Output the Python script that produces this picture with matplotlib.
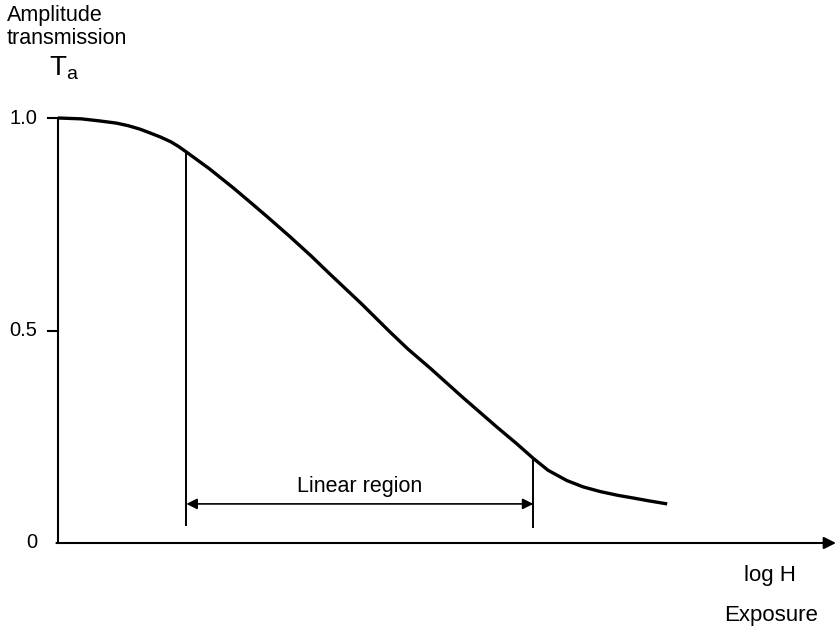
import matplotlib.pyplot as plt

plt.rcParams['font.family'] = ['Liberation Sans', 'DejaVu Sans']
plt.rcParams['mathtext.fontset'] = 'custom'
plt.rcParams['mathtext.rm'] = 'Liberation Sans'

# characteristic curve: amplitude transmission vs log exposure
log_h = [0.0, 0.3, 0.54, 0.75, 0.9, 1.05, 1.18, 1.32, 1.45, 1.55, 1.65,
         1.8, 1.95, 2.1, 2.25, 2.47, 2.7, 2.98, 3.25, 3.5, 3.9, 4.27, 4.5,
         4.78, 5.2, 5.64, 5.9, 6.11, 6.3, 6.54, 6.75, 6.97, 7.2, 7.39, 7.6,
         7.83]
t_a = [1.0, 0.998, 0.993, 0.988, 0.982, 0.974, 0.965, 0.955, 0.944, 0.933,
       0.920, 0.900, 0.880, 0.858, 0.836, 0.802, 0.766, 0.721, 0.676, 0.632,
       0.563, 0.496, 0.456, 0.412, 0.343, 0.273, 0.233, 0.199, 0.171, 0.147,
       0.132, 0.121, 0.112, 0.106, 0.099, 0.092]

ytick_vals = [1.0, 0.5, 0.0]
ytick_labels = ['1.0', '0.5', '0']

lin_start, lin_end = 1.65, 6.11
lin_top = [0.920, 0.199]

fig = plt.figure(figsize=(8.39, 6.32), dpi=100)
ax = fig.add_axes([58 / 839, 89 / 632, 778 / 839, 425 / 632])
ax.set_xlim(0, 10)
ax.set_ylim(0, 1)
ax.axis('off')

# axes drawn by hand: y axis up to 1.0, x axis with arrow head
ax.plot([0, 0], [0, 1.0], color='black', lw=1.5, clip_on=False)
ax.annotate('', xy=(10, 0), xytext=(-0.02, 0),
            arrowprops=dict(arrowstyle='-|>', color='black', lw=1.5,
                            mutation_scale=18, shrinkA=0, shrinkB=0),
            annotation_clip=False)

for v, lab in zip(ytick_vals, ytick_labels):
    if v > 0:
        ax.plot([-0.13, 0], [v, v], color='black', lw=1.5, clip_on=False)
    ax.text(-0.27, v, lab, ha='right', va='center', fontsize=14.5)

ax.plot(log_h, t_a, color='black', lw=2.4, solid_capstyle='butt',
        solid_joinstyle='round', clip_on=False)

# bounds of the linear region
ax.plot([lin_start, lin_start], [0.042, lin_top[0]], color='black', lw=1.4)
ax.plot([lin_end, lin_end], [0.038, lin_top[1]], color='black', lw=1.4)
ax.annotate('', xy=(lin_end, 0.092), xytext=(lin_start, 0.092),
            arrowprops=dict(arrowstyle='<|-|>', color='black', lw=1.2,
                            mutation_scale=16, shrinkA=0, shrinkB=0))
ax.text((lin_start + lin_end) / 2, 0.132, 'Linear region', ha='center',
        va='center', fontsize=15.5)

# axis titles
fig.text(7 / 839, 1 - 15 / 632, 'Amplitude', ha='left', va='center',
         fontsize=15.5)
fig.text(7 / 839, 1 - 39 / 632, 'transmission', ha='left', va='center',
         fontsize=15.5)
fig.text(49 / 839, 1 - 68 / 632, r'$\mathrm{T_a}$', ha='left',
         va='center', fontsize=20)
fig.text(770 / 839, 1 - 576 / 632, 'log H', ha='center', va='center',
         fontsize=16)
fig.text(771 / 839, 1 - 615 / 632, 'Exposure', ha='center', va='center',
         fontsize=16)

fig.savefig('out.png', dpi=100, facecolor='white')
